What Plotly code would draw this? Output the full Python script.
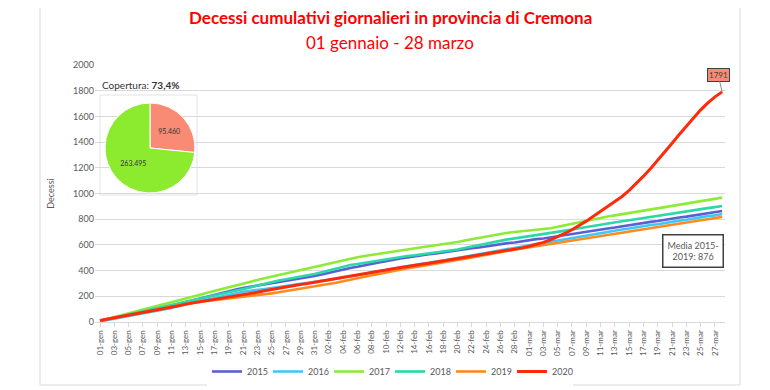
import plotly.graph_objects as go

# ---------------- data ----------------
months = [("gen", 31), ("feb", 29), ("mar", 28)]
categories = [f"{d:02d}-{m}" for m, n in months for d in range(1, n + 1)]
tick_labels = categories[::2]

years = ["2015", "2016", "2017", "2018", "2019", "2020"]

deaths_2015 = [10, 21, 34, 44, 57, 66, 78, 89, 100, 115,
               127, 143, 155, 170, 183, 198, 210, 226, 237, 253,
               265, 274, 286, 294, 305, 312, 322, 328, 338, 345,
               358, 369, 383, 394, 408, 420, 430, 443, 451, 464,
               473, 485, 495, 502, 512, 517, 527, 533, 542, 549,
               558, 564, 574, 580, 590, 596, 605, 614, 619, 629,
               635, 645, 650, 659, 669, 675, 686, 692, 703, 709,
               719, 728, 735, 745, 752, 762, 769, 779, 786, 796,
               803, 813, 820, 830, 837, 847, 854, 864]
deaths_2016 = [5, 15, 25, 36, 45, 56, 64, 75, 85, 98,
               110, 124, 136, 150, 163, 174, 188, 198, 213, 223,
               236, 242, 252, 257, 265, 273, 278, 287, 292, 300,
               310, 317, 329, 336, 347, 355, 366, 374, 386, 394,
               406, 414, 425, 435, 442, 453, 460, 471, 478, 488,
               500, 508, 520, 529, 541, 549, 560, 570, 577, 589,
               596, 607, 615, 625, 636, 644, 656, 663, 675, 683,
               694, 703, 710, 720, 727, 738, 744, 755, 761, 772,
               779, 789, 796, 807, 813, 824, 830, 840]
deaths_2017 = [10, 24, 38, 53, 67, 81, 96, 110, 124, 139,
               153, 168, 182, 197, 212, 227, 242, 256, 271, 286,
               301, 314, 327, 340, 353, 365, 378, 390, 403, 415,
               428, 442, 455, 468, 482, 495, 504, 514, 523, 532,
               541, 551, 560, 567, 575, 582, 590, 597, 604, 612,
               623, 634, 645, 656, 666, 677, 688, 694, 700, 706,
               711, 717, 723, 729, 741, 753, 765, 776, 788, 800,
               812, 821, 830, 839, 849, 858, 867, 876, 885, 894,
               904, 913, 922, 931, 940, 950, 959, 968]
deaths_2018 = [10, 22, 35, 47, 60, 72, 85, 97, 110, 122,
               134, 147, 159, 171, 183, 195, 207, 218, 230, 242,
               254, 269, 284, 299, 314, 323, 332, 342, 351, 360,
               374, 388, 402, 415, 429, 443, 452, 461, 471, 480,
               489, 499, 508, 514, 520, 527, 533, 539, 546, 552,
               564, 576, 588, 599, 611, 623, 635, 643, 651, 659,
               667, 674, 682, 690, 700, 710, 719, 729, 739, 748,
               758, 767, 775, 784, 792, 801, 809, 818, 826, 835,
               843, 852, 860, 869, 877, 886, 894, 903]
deaths_2019 = [12, 22, 33, 43, 54, 64, 74, 85, 95, 106,
               117, 128, 139, 150, 157, 164, 170, 177, 184, 190,
               197, 204, 210, 217, 223, 231, 240, 248, 257, 265,
               275, 286, 296, 306, 317, 327, 339, 351, 363, 374,
               386, 398, 410, 419, 427, 436, 444, 453, 461, 470,
               481, 492, 503, 514, 524, 535, 546, 555, 563, 572,
               581, 589, 598, 607, 616, 625, 634, 643, 652, 661,
               670, 679, 687, 696, 705, 713, 722, 731, 739, 748,
               757, 766, 774, 783, 792, 800, 809, 818]
deaths_2020 = [12, 22, 32, 43, 53, 63, 73, 83, 93, 105,
               116, 127, 139, 150, 159, 168, 176, 185, 193, 202,
               210, 221, 232, 243, 254, 260, 275, 285, 292, 300,
               309, 318, 326, 335, 344, 353, 363, 374, 384, 394,
               404, 415, 425, 433, 441, 449, 457, 466, 474, 482,
               492, 502, 512, 521, 531, 541, 550, 558, 567, 577,
               589, 603, 620, 640, 663, 689, 718, 750, 785, 822,
               860, 896, 934, 977, 1025, 1078, 1135, 1195, 1258, 1323,
               1391, 1459, 1526, 1591, 1651, 1705, 1752, 1791]

series = [deaths_2015, deaths_2016, deaths_2017, deaths_2018, deaths_2019, deaths_2020]
colors = ["#5A5FD6", "#3CC9F7", "#8CEB34", "#2BD8A8", "#FF8A1E", "#FF2A0C"]
widths = [2.6, 2.6, 2.6, 2.6, 2.6, 3.0]

pie_labels = ["Coperti", "Non coperti"]
pie_values = [95460, 263495]
pie_text = ["95.460", "263.495"]
pie_colors = ["#F98B74", "#8DEB2F"]

media_value = 876
coverage = "73,4%"

FONT = "Lato, Liberation Sans, sans-serif"
GRAY = "#595959"

fig = go.Figure()
for name, vals, c, w in zip(years, series, colors, widths):
    fig.add_trace(go.Scatter(x=categories, y=vals, mode="lines", name=name,
                             line=dict(color=c, width=w)))

# page offset (body margin) in screen pixels
OFF = 8
W, H = 770 - OFF, 390 - OFF
L, T = 95 - OFF, 65 - OFF
pw, ph = 630, 257
R, B = W - L - pw, H - T - ph


def sx(x):
    return (x - OFF - L) / pw


def sy(y):
    return (H - B - (y - OFF)) / ph


fig.add_trace(go.Pie(labels=pie_labels, values=pie_values, text=pie_text,
                     textinfo="text", textposition="inside",
                     insidetextorientation="horizontal",
                     textfont=dict(size=7, color="#333333", family=FONT),
                     marker=dict(colors=pie_colors, line=dict(color="white", width=1)),
                     sort=False, direction="clockwise", rotation=0,
                     showlegend=False, hoverinfo="label+value",
                     domain=dict(x=[sx(105), sx(195)], y=[sy(193), sy(103)])))

fig.update_layout(
    width=W, height=H,
    margin=dict(l=L, r=R, t=T, b=B, autoexpand=False),
    paper_bgcolor="white", plot_bgcolor="white",
    font=dict(family=FONT, color=GRAY, size=9),
    showlegend=True,
    legend=dict(orientation="h", xref="container", yref="container",
                x=(390 - OFF) / W, xanchor="center",
                y=(H - (357 - OFF)) / H, yanchor="top",
                font=dict(size=9, color=GRAY, family=FONT),
                entrywidth=16, entrywidthmode="pixels", itemwidth=30),
    xaxis=dict(type="category", range=[-0.7, 87.4], automargin=False,
               tickmode="array", tickvals=tick_labels, ticktext=tick_labels,
               tickangle=-90, tickfont=dict(size=8, color=GRAY),
               showgrid=False, showline=True, linecolor="#D9D9D9", linewidth=1,
               ticks="outside", ticklen=4, tickcolor="#D9D9D9"),
    yaxis=dict(range=[0, 2000], dtick=200, showgrid=True, gridcolor="#D9D9D9",
               gridwidth=1, zeroline=False, showline=False, automargin=False,
               tickfont=dict(size=9, color=GRAY),
               title=dict(text="Decessi", font=dict(size=9, color=GRAY), standoff=16)),
    shapes=[
        dict(type="rect", xref="paper", yref="paper",
             x0=sx(40), x1=sx(740), y0=sy(385), y1=sy(-2),
             line=dict(color="#D9D9D9", width=1), fillcolor="rgba(0,0,0,0)", layer="below"),
        dict(type="rect", xref="paper", yref="paper",
             x0=sx(100), x1=sx(197), y0=sy(195), y1=sy(95),
             line=dict(color="#E3E3E3", width=1), fillcolor="white", layer="between"),
    ],
    annotations=[
        dict(xref="paper", yref="paper", x=sx(390), y=sy(18), xanchor="center", yanchor="middle",
             text="<b>Decessi cumulativi giornalieri in provincia di Cremona</b>",
             showarrow=False, font=dict(size=17, color="#FF0000", family=FONT)),
        dict(xref="paper", yref="paper", x=sx(390), y=sy(42), xanchor="center", yanchor="middle",
             text="01 gennaio - 28 marzo",
             showarrow=False, font=dict(size=17, color="#FF0000", family=FONT)),
        dict(xref="paper", yref="paper", x=sx(100), y=sy(85), xanchor="left", yanchor="middle",
             text=f"Copertura: <b>{coverage}</b>",
             showarrow=False, font=dict(size=10, color="#333333", family=FONT)),
        dict(x=categories[-1], y=deaths_2020[-1], xref="x", yref="y",
             text=str(deaths_2020[-1]), showarrow=True, arrowhead=0, arrowwidth=1,
             arrowcolor="#8C8C8C", ax=-4, ay=-17, bgcolor="#F98B74",
             bordercolor="#404040", borderwidth=1, borderpad=1,
             font=dict(size=8, color="#404040", family=FONT)),
        dict(xref="paper", yref="paper", x=sx(693), y=sy(251), xanchor="center", yanchor="middle",
             text=f"Media 2015-<br>2019: {media_value}", showarrow=False, align="center",
             bordercolor="#404040", borderwidth=1.5, borderpad=4, bgcolor="white",
             font=dict(size=9, color=GRAY, family=FONT)),
    ],
)

fig.write_html("out.html")
